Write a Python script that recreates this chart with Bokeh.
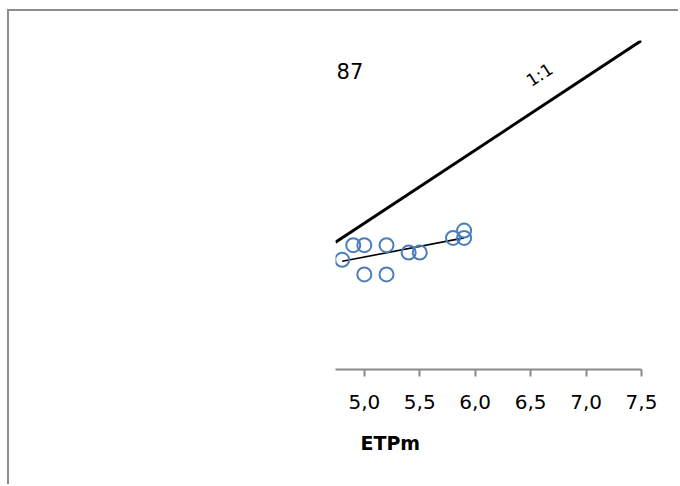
from bokeh.plotting import figure
from bokeh.models import Range1d, FixedTicker, Label, Title
from bokeh.embed import file_html
from bokeh.resources import INLINE

# ---- data ----
etpm = [4.8, 4.9, 5.0, 5.2, 5.0, 5.2, 5.4, 5.5, 5.8, 5.9, 5.9]
etr = [4.5, 4.7, 4.7, 4.7, 4.3, 4.3, 4.6, 4.6, 4.8, 4.9, 4.8]
trend_x = [4.8, 5.9]
trend_y = [4.48, 4.80]
line_11 = [4.74, 7.5]
tick_values = [5.0, 5.5, 6.0, 6.5, 7.0, 7.5]
tick_labels = ["5,0", "5,5", "6,0", "6,5", "7,0", "7,5"]
x_lim = (4.74, 7.5)
y_lim = (3.0, 7.5)

p = figure(width=671, height=475, output_backend="svg", toolbar_location=None,
           x_range=Range1d(*x_lim), y_range=Range1d(*y_lim),
           y_axis_location=None, min_border_left=326, min_border_right=39,
           min_border_top=29, min_border_bottom=117)
p.styles = {"margin-left": "7px", "margin-top": "9px",
            "border-left": "2px solid #8c8c8c", "border-top": "2px solid #8c8c8c"}
p.outline_line_color = None
p.xgrid.visible = False
p.ygrid.visible = False

ax = p.xaxis[0]
ax.ticker = FixedTicker(ticks=tick_values)
ax.major_label_overrides = {v: l for v, l in zip(tick_values, tick_labels)}
ax.axis_line_color = "#8a8a8a"
ax.axis_line_width = 2
ax.major_tick_line_color = "#8a8a8a"
ax.major_tick_line_width = 2
ax.major_tick_in = 0
ax.major_tick_out = 7
ax.minor_tick_line_color = None
ax.major_label_text_font = "DejaVu Sans"
ax.major_label_text_font_size = "20px"
ax.major_label_text_color = "#000000"
ax.major_label_standoff = 18

# 1:1 line
p.line(line_11, line_11, line_color="black", line_width=3)
# trend line
p.line(trend_x, trend_y, line_color="black", line_width=1.6)
# observations
p.scatter(etpm, etr, marker="circle", size=14, fill_color=None,
          line_color="#4a7ebb", line_width=2)

p.add_layout(Label(x=4.75, y=6.98, text="87", text_font="DejaVu Sans",
                   text_font_size="21px", text_color="black"))
p.add_layout(Label(x=6.58, y=7.03, text="1:1", text_font="DejaVu Sans",
                   text_font_size="17px", text_color="black", angle=33,
                   angle_units="deg", text_align="center", text_baseline="middle"))
p.add_layout(Title(text="ETPm", align="left", offset=25, text_font="DejaVu Sans",
                   text_font_size="19px", text_font_style="bold",
                   text_color="black", standoff=36), "below")

open("out.html", "w").write(file_html(p, INLINE))
